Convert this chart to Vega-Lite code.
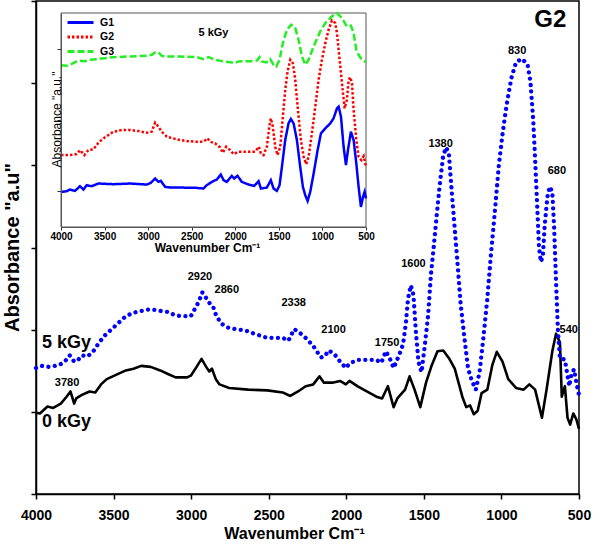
{
  "$schema": "https://vega.github.io/schema/vega-lite/v6.json",
  "width": 543,
  "height": 493,
  "autosize": {"type": "none"},
  "padding": {"left": 36, "top": 1, "right": 21, "bottom": 57},
  "background": "white",
  "config": {"view": {"stroke": "black", "strokeWidth": 1.5}, "font": "Liberation Sans"},
  "datasets": {
    "main0": [
      {"w":4000,"a":0.99},{"w":3975,"a":0.98},{"w":3926,"a":1.065},{"w":3889,"a":1.048},{"w":3840,"a":1.10},{"w":3803,"a":1.184},{"w":3778,"a":1.248},{"w":3754,"a":1.10},{"w":3741,"a":1.163},{"w":3704,"a":1.206},{"w":3655,"a":1.248},{"w":3618,"a":1.236},{"w":3581,"a":1.334},{"w":3544,"a":1.398},{"w":3495,"a":1.44},{"w":3421,"a":1.504},{"w":3371,"a":1.525},{"w":3322,"a":1.559},{"w":3261,"a":1.547},{"w":3199,"a":1.504},{"w":3150,"a":1.461},{"w":3100,"a":1.419},{"w":3026,"a":1.419},{"w":3002,"a":1.44},{"w":2965,"a":1.547},{"w":2933,"a":1.645},{"w":2903,"a":1.547},{"w":2883,"a":1.491},{"w":2866,"a":1.525},{"w":2841,"a":1.398},{"w":2817,"a":1.334},{"w":2755,"a":1.291},{"w":2632,"a":1.27},{"w":2509,"a":1.261},{"w":2410,"a":1.236},{"w":2361,"a":1.193},{"w":2311,"a":1.248},{"w":2262,"a":1.312},{"w":2213,"a":1.334},{"w":2173,"a":1.432},{"w":2144,"a":1.355},{"w":2090,"a":1.355},{"w":2040,"a":1.376},{"w":2003,"a":1.334},{"w":1979,"a":1.376},{"w":1929,"a":1.312},{"w":1868,"a":1.248},{"w":1806,"a":1.184},{"w":1769,"a":1.163},{"w":1732,"a":1.312},{"w":1695,"a":1.057},{"w":1671,"a":1.163},{"w":1621,"a":1.27},{"w":1592,"a":1.432},{"w":1560,"a":1.27},{"w":1523,"a":1.057},{"w":1486,"a":1.355},{"w":1449,"a":1.568},{"w":1412,"a":1.738},{"w":1375,"a":1.747},{"w":1338,"a":1.653},{"w":1301,"a":1.525},{"w":1252,"a":1.184},{"w":1227,"a":1.057},{"w":1202,"a":1.078},{"w":1178,"a":0.971},{"w":1153,"a":1.014},{"w":1128,"a":1.227},{"w":1091,"a":1.27},{"w":1059,"a":1.568},{"w":1030,"a":1.73},{"w":993,"a":1.611},{"w":956,"a":1.398},{"w":906,"a":1.291},{"w":857,"a":1.27},{"w":820,"a":1.334},{"w":783,"a":1.27},{"w":739,"a":0.929},{"w":709,"a":1.27},{"w":672,"a":1.738},{"w":648,"a":1.951},{"w":623,"a":1.845},{"w":611,"a":1.184},{"w":591,"a":1.312},{"w":574,"a":0.929},{"w":557,"a":0.844},{"w":537,"a":0.98},{"w":517,"a":0.908},{"w":500,"a":0.792}
    ],
    "main5": [
      {"w":4000,"a":1.534},{"w":3963,"a":1.559},{"w":3914,"a":1.547},{"w":3852,"a":1.568},{"w":3815,"a":1.611},{"w":3783,"a":1.687},{"w":3754,"a":1.611},{"w":3729,"a":1.632},{"w":3704,"a":1.687},{"w":3667,"a":1.674},{"w":3630,"a":1.738},{"w":3593,"a":1.845},{"w":3556,"a":1.93},{"w":3519,"a":1.994},{"w":3470,"a":2.079},{"w":3421,"a":2.164},{"w":3371,"a":2.207},{"w":3322,"a":2.228},{"w":3261,"a":2.25},{"w":3199,"a":2.228},{"w":3150,"a":2.216},{"w":3100,"a":2.173},{"w":3051,"a":2.164},{"w":3002,"a":2.164},{"w":2977,"a":2.25},{"w":2952,"a":2.335},{"w":2928,"a":2.454},{"w":2903,"a":2.386},{"w":2883,"a":2.326},{"w":2859,"a":2.284},{"w":2841,"a":2.186},{"w":2809,"a":2.079},{"w":2768,"a":2.028},{"w":2706,"a":2.003},{"w":2657,"a":1.994},{"w":2595,"a":1.951},{"w":2509,"a":1.9},{"w":2410,"a":1.9},{"w":2373,"a":1.866},{"w":2336,"a":2.007},{"w":2299,"a":1.96},{"w":2262,"a":1.9},{"w":2213,"a":1.802},{"w":2164,"a":1.662},{"w":2139,"a":1.674},{"w":2114,"a":1.747},{"w":2077,"a":1.704},{"w":2040,"a":1.611},{"w":2003,"a":1.534},{"w":1979,"a":1.589},{"w":1929,"a":1.632},{"w":1868,"a":1.632},{"w":1806,"a":1.632},{"w":1774,"a":1.598},{"w":1745,"a":1.738},{"w":1720,"a":1.653},{"w":1695,"a":1.534},{"w":1658,"a":1.696},{"w":1634,"a":1.824},{"w":1616,"a":2.079},{"w":1602,"a":2.377},{"w":1584,"a":2.539},{"w":1567,"a":2.42},{"w":1552,"a":1.994},{"w":1535,"a":1.611},{"w":1515,"a":1.483},{"w":1493,"a":1.824},{"w":1473,"a":2.164},{"w":1454,"a":2.676},{"w":1436,"a":3.017},{"w":1419,"a":3.357},{"w":1399,"a":3.741},{"w":1375,"a":4.124},{"w":1355,"a":4.218},{"w":1338,"a":4.124},{"w":1321,"a":3.698},{"w":1301,"a":3.23},{"w":1281,"a":2.761},{"w":1264,"a":2.335},{"w":1239,"a":1.909},{"w":1215,"a":1.525},{"w":1190,"a":1.376},{"w":1165,"a":1.27},{"w":1141,"a":1.483},{"w":1116,"a":1.909},{"w":1091,"a":2.377},{"w":1067,"a":2.931},{"w":1042,"a":3.443},{"w":1017,"a":3.997},{"w":993,"a":4.38},{"w":968,"a":4.721},{"w":936,"a":5.062},{"w":906,"a":5.254},{"w":869,"a":5.296},{"w":832,"a":5.232},{"w":813,"a":5.019},{"w":795,"a":4.55},{"w":783,"a":4.082},{"w":770,"a":3.528},{"w":758,"a":3.017},{"w":746,"a":2.825},{"w":733,"a":2.889},{"w":721,"a":3.272},{"w":704,"a":3.613},{"w":689,"a":3.741},{"w":672,"a":3.677},{"w":660,"a":3.23},{"w":648,"a":2.591},{"w":636,"a":1.994},{"w":623,"a":1.653},{"w":611,"a":1.653},{"w":591,"a":1.632},{"w":574,"a":1.44},{"w":562,"a":1.312},{"w":550,"a":1.449},{"w":532,"a":1.517},{"w":517,"a":1.355},{"w":500,"a":1.206}
    ],
    "labels": [
      {"w":3800,"a":1.355,"t":"3780"},{"w":2943,"a":2.642,"t":"2920"},{"w":2770,"a":2.48,"t":"2860"},{"w":2339,"a":2.322,"t":"2338"},{"w":2082,"a":1.994,"t":"2100"},{"w":1737,"a":1.836,"t":"1750"},{"w":1567,"a":2.804,"t":"1600"},{"w":1392,"a":4.261,"t":"1380"},{"w":899,"a":5.394,"t":"830"},{"w":643,"a":3.933,"t":"680"},{"w":566,"a":1.994,"t":"540"}
    ],
    "inset": [
      {"s":"G1","w":4000,"a":1.05},{"s":"G1","w":3935,"a":1.07},{"s":"G1","w":3897,"a":1.12},{"s":"G1","w":3839,"a":1.08},{"s":"G1","w":3782,"a":1.22},{"s":"G1","w":3743,"a":1.12},{"s":"G1","w":3705,"a":1.25},{"s":"G1","w":3648,"a":1.22},{"s":"G1","w":3571,"a":1.3},{"s":"G1","w":3399,"a":1.28},{"s":"G1","w":3207,"a":1.3},{"s":"G1","w":3016,"a":1.27},{"s":"G1","w":2970,"a":1.32},{"s":"G1","w":2920,"a":1.45},{"s":"G1","w":2882,"a":1.35},{"s":"G1","w":2855,"a":1.38},{"s":"G1","w":2805,"a":1.2},{"s":"G1","w":2748,"a":1.18},{"s":"G1","w":2633,"a":1.18},{"s":"G1","w":2442,"a":1.17},{"s":"G1","w":2365,"a":1.15},{"s":"G1","w":2327,"a":1.25},{"s":"G1","w":2269,"a":1.35},{"s":"G1","w":2212,"a":1.42},{"s":"G1","w":2166,"a":1.57},{"s":"G1","w":2135,"a":1.4},{"s":"G1","w":2097,"a":1.35},{"s":"G1","w":2040,"a":1.53},{"s":"G1","w":2013,"a":1.45},{"s":"G1","w":1974,"a":1.53},{"s":"G1","w":1925,"a":1.35},{"s":"G1","w":1848,"a":1.27},{"s":"G1","w":1783,"a":1.23},{"s":"G1","w":1733,"a":1.37},{"s":"G1","w":1706,"a":1.15},{"s":"G1","w":1638,"a":1.18},{"s":"G1","w":1592,"a":1.4},{"s":"G1","w":1561,"a":1.15},{"s":"G1","w":1523,"a":1.08},{"s":"G1","w":1492,"a":1.25},{"s":"G1","w":1465,"a":1.8},{"s":"G1","w":1427,"a":2.6},{"s":"G1","w":1389,"a":3.1},{"s":"G1","w":1362,"a":3.23},{"s":"G1","w":1331,"a":3.1},{"s":"G1","w":1293,"a":2.6},{"s":"G1","w":1255,"a":1.8},{"s":"G1","w":1224,"a":1.2},{"s":"G1","w":1197,"a":0.95},{"s":"G1","w":1170,"a":0.78},{"s":"G1","w":1140,"a":1.05},{"s":"G1","w":1101,"a":1.6},{"s":"G1","w":1055,"a":2.3},{"s":"G1","w":1017,"a":2.8},{"s":"G1","w":967,"a":2.95},{"s":"G1","w":910,"a":3.1},{"s":"G1","w":872,"a":3.25},{"s":"G1","w":833,"a":3.55},{"s":"G1","w":814,"a":3.6},{"s":"G1","w":787,"a":3.3},{"s":"G1","w":757,"a":2.4},{"s":"G1","w":730,"a":1.85},{"s":"G1","w":707,"a":2.3},{"s":"G1","w":673,"a":2.85},{"s":"G1","w":642,"a":2.6},{"s":"G1","w":611,"a":1.9},{"s":"G1","w":585,"a":1.2},{"s":"G1","w":558,"a":0.6},{"s":"G1","w":535,"a":0.9},{"s":"G1","w":516,"a":1.05},{"s":"G1","w":500,"a":0.85},
      {"s":"G2","w":4000,"a":2.15},{"s":"G2","w":3897,"a":2.15},{"s":"G2","w":3820,"a":2.18},{"s":"G2","w":3782,"a":2.3},{"s":"G2","w":3732,"a":2.15},{"s":"G2","w":3686,"a":2.3},{"s":"G2","w":3629,"a":2.32},{"s":"G2","w":3571,"a":2.52},{"s":"G2","w":3514,"a":2.65},{"s":"G2","w":3456,"a":2.75},{"s":"G2","w":3399,"a":2.85},{"s":"G2","w":3303,"a":2.9},{"s":"G2","w":3207,"a":2.9},{"s":"G2","w":3112,"a":2.87},{"s":"G2","w":3016,"a":2.82},{"s":"G2","w":2959,"a":2.85},{"s":"G2","w":2920,"a":3.12},{"s":"G2","w":2882,"a":3.0},{"s":"G2","w":2844,"a":2.85},{"s":"G2","w":2786,"a":2.7},{"s":"G2","w":2710,"a":2.65},{"s":"G2","w":2633,"a":2.6},{"s":"G2","w":2556,"a":2.57},{"s":"G2","w":2442,"a":2.55},{"s":"G2","w":2365,"a":2.55},{"s":"G2","w":2319,"a":2.65},{"s":"G2","w":2288,"a":2.55},{"s":"G2","w":2231,"a":2.5},{"s":"G2","w":2174,"a":2.38},{"s":"G2","w":2143,"a":2.22},{"s":"G2","w":2105,"a":2.4},{"s":"G2","w":2059,"a":2.3},{"s":"G2","w":2020,"a":2.18},{"s":"G2","w":1963,"a":2.25},{"s":"G2","w":1906,"a":2.25},{"s":"G2","w":1829,"a":2.25},{"s":"G2","w":1772,"a":2.25},{"s":"G2","w":1729,"a":2.4},{"s":"G2","w":1706,"a":2.2},{"s":"G2","w":1676,"a":2.15},{"s":"G2","w":1638,"a":2.4},{"s":"G2","w":1607,"a":3.05},{"s":"G2","w":1592,"a":3.25},{"s":"G2","w":1569,"a":3.0},{"s":"G2","w":1542,"a":2.4},{"s":"G2","w":1515,"a":2.15},{"s":"G2","w":1484,"a":2.4},{"s":"G2","w":1454,"a":3.3},{"s":"G2","w":1427,"a":4.1},{"s":"G2","w":1400,"a":4.65},{"s":"G2","w":1369,"a":5.0},{"s":"G2","w":1339,"a":4.9},{"s":"G2","w":1312,"a":4.4},{"s":"G2","w":1281,"a":3.5},{"s":"G2","w":1247,"a":2.6},{"s":"G2","w":1216,"a":2.1},{"s":"G2","w":1186,"a":1.88},{"s":"G2","w":1159,"a":2.1},{"s":"G2","w":1121,"a":2.8},{"s":"G2","w":1082,"a":3.6},{"s":"G2","w":1044,"a":4.4},{"s":"G2","w":1006,"a":5.0},{"s":"G2","w":967,"a":5.5},{"s":"G2","w":929,"a":5.9},{"s":"G2","w":891,"a":6.18},{"s":"G2","w":853,"a":6.1},{"s":"G2","w":833,"a":5.8},{"s":"G2","w":795,"a":4.8},{"s":"G2","w":764,"a":4.0},{"s":"G2","w":745,"a":3.55},{"s":"G2","w":719,"a":3.8},{"s":"G2","w":699,"a":4.4},{"s":"G2","w":680,"a":4.48},{"s":"G2","w":661,"a":4.3},{"s":"G2","w":642,"a":3.5},{"s":"G2","w":611,"a":2.6},{"s":"G2","w":585,"a":2.1},{"s":"G2","w":554,"a":2.0},{"s":"G2","w":527,"a":2.12},{"s":"G2","w":500,"a":1.8},
      {"s":"G3","w":4000,"a":4.84},{"s":"G3","w":3935,"a":4.82},{"s":"G3","w":3877,"a":4.88},{"s":"G3","w":3820,"a":4.95},{"s":"G3","w":3782,"a":4.97},{"s":"G3","w":3724,"a":4.96},{"s":"G3","w":3667,"a":5.0},{"s":"G3","w":3590,"a":5.02},{"s":"G3","w":3399,"a":5.08},{"s":"G3","w":3207,"a":5.1},{"s":"G3","w":3016,"a":5.12},{"s":"G3","w":2959,"a":5.15},{"s":"G3","w":2920,"a":5.22},{"s":"G3","w":2882,"a":5.22},{"s":"G3","w":2844,"a":5.12},{"s":"G3","w":2786,"a":5.1},{"s":"G3","w":2633,"a":5.1},{"s":"G3","w":2442,"a":5.08},{"s":"G3","w":2365,"a":5.02},{"s":"G3","w":2308,"a":5.08},{"s":"G3","w":2250,"a":5.02},{"s":"G3","w":2193,"a":4.98},{"s":"G3","w":2135,"a":4.95},{"s":"G3","w":2059,"a":4.93},{"s":"G3","w":2013,"a":4.9},{"s":"G3","w":1963,"a":4.95},{"s":"G3","w":1829,"a":4.96},{"s":"G3","w":1752,"a":4.98},{"s":"G3","w":1722,"a":5.08},{"s":"G3","w":1695,"a":4.95},{"s":"G3","w":1645,"a":4.92},{"s":"G3","w":1599,"a":5.02},{"s":"G3","w":1561,"a":4.85},{"s":"G3","w":1530,"a":4.8},{"s":"G3","w":1492,"a":5.0},{"s":"G3","w":1454,"a":5.5},{"s":"G3","w":1408,"a":5.9},{"s":"G3","w":1358,"a":6.05},{"s":"G3","w":1312,"a":5.95},{"s":"G3","w":1274,"a":5.6},{"s":"G3","w":1235,"a":5.1},{"s":"G3","w":1197,"a":4.85},{"s":"G3","w":1159,"a":5.0},{"s":"G3","w":1101,"a":5.4},{"s":"G3","w":1025,"a":5.85},{"s":"G3","w":967,"a":6.1},{"s":"G3","w":891,"a":6.3},{"s":"G3","w":833,"a":6.4},{"s":"G3","w":776,"a":6.25},{"s":"G3","w":719,"a":6.0},{"s":"G3","w":673,"a":6.02},{"s":"G3","w":642,"a":5.8},{"s":"G3","w":611,"a":5.3},{"s":"G3","w":585,"a":5.15},{"s":"G3","w":546,"a":5.0},{"s":"G3","w":500,"a":4.93}
    ]
  },
  "layer": [
    {
      "encoding": {
        "x": {"field": "w", "type": "quantitative",
          "scale": {"domain": [500, 4000], "reverse": true, "nice": false, "zero": false},
          "axis": {"title": "Wavenumber Cm⁻¹", "values": [4000,3500,3000,2500,2000,1500,1000,500], "format": "d", "grid": false,
            "labelFontSize": 14, "labelFontWeight": "bold", "labelColor": "black", "labelPadding": 9, "labelFlush": false, "labelOverlap": false,
            "tickSize": 5, "tickWidth": 1.5, "tickColor": "black", "domainColor": "black", "domainWidth": 1.5,
            "titleFontSize": 16, "titleFontWeight": "bold", "titleColor": "black", "titleX": 258, "titleY": 44, "titleBaseline": "alphabetic", "titleAlign": "center"}},
        "y": {"field": "a", "type": "quantitative",
          "scale": {"domain": [0, 6], "nice": false, "zero": false},
          "axis": {"title": "Absorbance \"a.u\"", "values": [0,1,2,3,4,5,6], "labels": false, "grid": false,
            "tickSize": 5, "tickWidth": 1.5, "tickColor": "black", "domainColor": "black", "domainWidth": 1.5,
            "titleFontSize": 20, "titleFontWeight": "bold", "titleColor": "black", "titleAngle": -90, "titleX": -18, "titleY": 246, "titleAlign": "center", "titleBaseline": "alphabetic"}}
      },
      "layer": [
        {"data": {"name": "main0"}, "mark": {"type": "line", "color": "black", "strokeWidth": 2.6, "strokeJoin": "round"}},
        {"data": {"name": "main5"}, "mark": {"type": "line", "color": "#0000ff", "strokeWidth": 4.3, "strokeCap": "round", "strokeDash": [0.01, 6.4]}},
        {"data": {"name": "labels"}, "mark": {"type": "text", "fontSize": 11, "fontWeight": "bold", "color": "black", "align": "center", "baseline": "middle"}, "encoding": {"text": {"field": "t"}}},
        {"data": {"values": [{"w": 3961, "a": 1.78, "t": "5 kGy"}, {"w": 3961, "a": 0.81, "t": "0 kGy"}]}, "mark": {"type": "text", "fontSize": 18, "fontWeight": "bold", "color": "black", "align": "left", "baseline": "alphabetic"}, "encoding": {"text": {"field": "t"}}},
        {"data": {"values": [{"w": 685, "a": 5.765, "t": "G2"}]}, "mark": {"type": "text", "fontSize": 24, "fontWeight": "bold", "color": "black", "align": "center", "baseline": "middle"}, "encoding": {"text": {"field": "t"}}}
      ]
    },
    {
      "encoding": {
        "x": {"field": "w", "type": "quantitative",
          "scale": {"domain": [500, 4000], "range": [330, 25], "nice": false, "zero": false},
          "axis": {"title": "Wavenumber Cm⁻¹", "orient": "bottom", "offset": -267, "zindex": 1, "values": [4000,3500,3000,2500,2000,1500,1000,500], "format": "d", "grid": false,
            "labelFontSize": 10, "labelFontWeight": "bold", "labelColor": "black", "labelPadding": 1, "labelFlush": false, "labelOverlap": false,
            "tickSize": 3, "tickWidth": 1, "tickColor": "#333", "domainColor": "#555", "domainWidth": 1,
            "titleFontSize": 12, "titleFontWeight": "bold", "titleColor": "black", "titleX": 171, "titleY": 24, "titleBaseline": "alphabetic", "titleAlign": "center"}},
        "y": {"field": "a", "type": "quantitative",
          "scale": {"domain": [0, 6.4], "range": [226, 12], "nice": false, "zero": false},
          "axis": {"title": "Absorbance \"a.u.\"", "orient": "left", "offset": -25, "zindex": 1, "values": [1.07, 3.2, 5.33], "labels": false, "grid": false,
            "tickSize": 4, "tickWidth": 1, "tickColor": "#333", "domainColor": "#555", "domainWidth": 1,
            "titleFontSize": 12, "titleFontWeight": "normal", "titleColor": "black", "titleAngle": -90, "titleX": -1, "titleY": 118, "titleAlign": "center", "titleBaseline": "alphabetic"}}
      },
      "layer": [
        {"data": {"values": [{"w": 500, "w2": 4000, "a": 0, "a2": 6.4}]}, "mark": {"type": "rect", "fill": "white", "stroke": "#555", "strokeWidth": 1}, "encoding": {"x2": {"field": "w2"}, "y2": {"field": "a2"}}},
        {"data": {"name": "inset"}, "mark": {"type": "line", "strokeWidth": 2.5, "clip": true},
          "encoding": {
            "color": {"field": "s", "type": "nominal", "scale": {"domain": ["G1","G2","G3"], "range": ["#0000ff","#ff0000","#22ee22"]},
              "legend": {"orient": "none", "legendX": 36.5, "legendY": 13.5, "padding": 0, "title": null, "symbolType": "M-2,0H2", "symbolSize": 169, "symbolStrokeWidth": 3, "labelFontSize": 10.5, "labelFontWeight": "bold", "labelColor": "black", "rowPadding": 0.5, "labelOffset": 11.5}},
            "strokeDash": {"field": "s", "type": "nominal", "scale": {"domain": ["G1","G2","G3"], "range": [[1,0],[2.5,2],[7,3]]},
              "legend": {"orient": "none", "legendX": 36.5, "legendY": 13.5, "padding": 0, "title": null, "symbolType": "M-2,0H2", "symbolSize": 169, "symbolStrokeWidth": 3, "labelFontSize": 10.5, "labelFontWeight": "bold", "labelColor": "black", "rowPadding": 0.5, "labelOffset": 11.5}}
          }},
        {"data": {"values": [{"w": 2250, "a": 5.8, "t": "5 kGy"}]}, "mark": {"type": "text", "fontSize": 11, "fontWeight": "bold", "color": "black", "align": "center", "baseline": "middle"}, "encoding": {"text": {"field": "t"}}}
      ]
    }
  ],
  "resolve": {"scale": {"x": "independent", "y": "independent"}, "axis": {"x": "independent", "y": "independent"}}
}
